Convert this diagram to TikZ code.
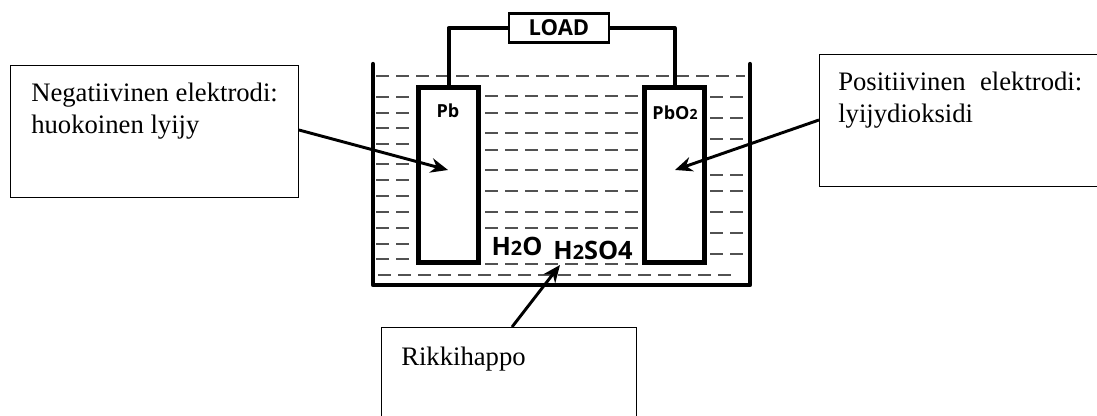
\documentclass[tikz,border=0pt]{standalone}
\usepackage{fontspec}
\setmainfont{Liberation Serif}
\newfontfamily\diagfont{Open Sans}
\usetikzlibrary{arrows.meta}
\newcommand{\lowtwo}{{\fontsize{0.78em}{1em}\selectfont 2}}
\tikzset{
 x=0.75pt,y=-0.75pt,
 wall/.style={line width=3.2pt,black,line cap=round,line join=round},
 wire/.style={line width=3pt,black,line join=round},
 liquid/.style={line width=1.15pt,black!68,dash pattern=on 10pt off 5pt},
 electrode/.style={draw=black,line width=3.4pt,minimum width=45pt,minimum height=131pt,inner sep=0pt,fill=white},
 callout/.style={draw=black,line width=0.7pt,rectangle,anchor=north west,inner sep=0pt},
 pointer/.style={line width=2.2pt,black,-{Stealth[length=13pt,width=11pt]}},
 small chem/.style={font=\diagfont\bfseries\fontsize{13.5}{15}\selectfont,inner sep=0pt},
 chem/.style={font=\diagfont\bfseries\fontsize{19}{20}\selectfont,inner sep=0pt},
 note/.style={font=\fontsize{20}{23.6}\selectfont,inner sep=0pt,anchor=north west,align=left}
}
\begin{document}
\begin{tikzpicture}
\useasboundingbox (0,0) rectangle (1097,416);
% liquid
\foreach \y in {97,113,128,144,164,180,196,212,228,244,259}{\draw[liquid] (376,\y) -- (412,\y);}
\draw[liquid] (376,76) -- (745,76);
\foreach \y in {96,113,133,150,170,191,212,228,264}{\draw[liquid] (485,\y) -- (640,\y);}
\foreach \y in {97,118,139,175,191,212,233,254}{\draw[liquid] (710,\y) -- (745,\y);}
\draw[liquid] (378,275) -- (732,275);
% tank
\draw[wall] (373,64) -- (373,285) -- (750,285) -- (750,64);
% electrodes
\node[electrode] (pb) at (448.5,175) {};
\node[electrode] (pbo) at (674.5,175) {};
\node[small chem] (pbl) at (448,111) {Pb};
\node[small chem] (pbol) at (675,113) {PbO\lowtwo};
% load
\node[draw=black,line width=2.2pt,minimum width=75pt,minimum height=22pt,inner sep=0pt,font=\diagfont\bfseries\fontsize{16.5}{18}\selectfont] (load) at (559,28) {LOAD};
\draw[wire] (load.west) -| (pb.north);
\draw[wire] (load.east) -| (pbo.north);
% chem
\node[chem] (h2o) at (517,246) {H\lowtwo O};
\node[chem] (h2so4) at (593,250) {H\lowtwo SO4};
% callouts
\node[callout,fill=white,minimum width=216pt,minimum height=99pt] (neg) at (10,65) {};
\node[note] (negt) at (31,83) {Negatiivinen elektrodi:\\huokoinen lyijy};
\node[callout,fill=white,minimum width=210pt,minimum height=99pt] (pos) at (819,54) {};
\node[note] (post) at (838,72) {\makebox[183pt][s]{Positiivinen elektrodi:}\\lyijydioksidi};
\node[callout,fill=white,minimum width=191pt,minimum height=72pt] (rik) at (381,327) {};
\node[note] (rikt) at (401,347) {Rikkihappo};
% pointers
\coordinate (a1) at (448,170);
\coordinate (a2) at (675,170);
\coordinate (a3) at (560,265);
\draw[pointer] (neg.east |- 0,130) -- (a1);
\draw[pointer] (pos.west |- 0,120) -- (a2);
\draw[pointer] (rik.north west -| 512,0) -- (a3);
\end{tikzpicture}
\end{document}
